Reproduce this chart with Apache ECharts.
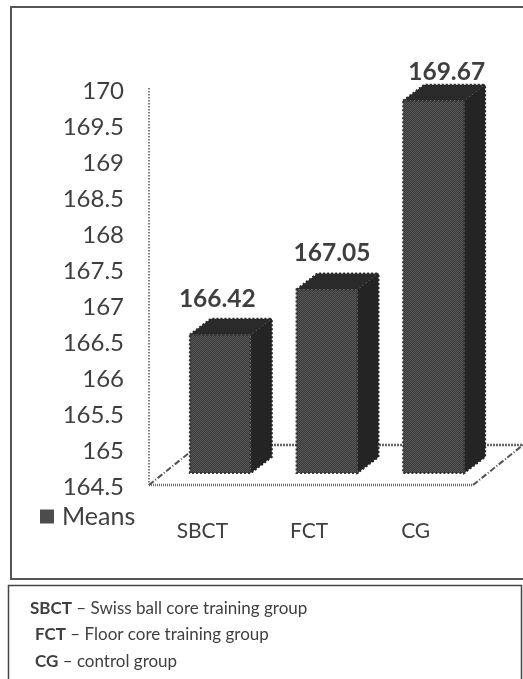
<!DOCTYPE html>
<html>
<head>
<meta charset="utf-8">
<style>html,body{margin:0;padding:0;background:#fff}#c{width:523px;height:679px}</style>
<script src="https://cdn.jsdelivr.net/npm/echarts@6/dist/echarts.min.js"></script>
</head>
<body>
<div id="c"></div>
<script>
const categories = ['SBCT', 'FCT', 'CG'];
const means = [166.42, 167.05, 169.67];
const yTicks = [164.5, 170];
const seriesName = 'Means';
const glossary = [
  ['SBCT', ' – Swiss ball core training group'],
  ['FCT', ' – Floor core training group'],
  ['CG', ' – control group']
];

const FONT = 'Lato, "Open Sans", sans-serif';
const INK = '#3f3f3f';
// Oblique projection of the 3D box
const FLOOR_DX = 50, FLOOR_DY = -40, FLOOR_LIFT = 2, FLOOR_EXTRA = 4;
const BAR_SHIFT_X = 18, BAR_SHIFT_Y = -14, BAR_W = 61, DEPTH_X = 21, DEPTH_Y = -16;
const LABEL_NUDGE = [[-3, -2], [5, -2], [13, 5]];

// Fine stipple used on the front face of the columns
function stipple(a, b) {
  const c = document.createElement('canvas');
  c.width = c.height = 2;
  const g = c.getContext('2d');
  g.fillStyle = a; g.fillRect(0, 0, 2, 2);
  g.fillStyle = b; g.fillRect(0, 0, 1, 1); g.fillRect(1, 1, 1, 1);
  return c;
}
const FRONT_FILL = { image: stipple('#3c3c3c', '#565656'), repeat: 'repeat' };

const chart = echarts.init(document.getElementById('c'), null, { renderer: 'canvas' });

function drawFloor(params, api) {
  const g = params.coordSys;
  const x0 = g.x, x1 = g.x + g.width + FLOOR_EXTRA, y = g.y + g.height - FLOOR_LIFT;
  const line = (a, b, c, d, w, dash, col) => ({
    type: 'line',
    shape: { x1: a, y1: b, x2: c, y2: d },
    style: { stroke: col, lineWidth: w, lineDash: dash }
  });
  return {
    type: 'group',
    children: [
      line(x0, g.y - 3, x0, y, 1.5, [1.5, 1.5], '#555'),
      line(x0, y, x1, y, 2.5, [1, 1], '#6a6a6a'),
      line(x0, y, x0 + FLOOR_DX, y + FLOOR_DY, 2, [6, 2, 1, 2], '#555'),
      line(x1, y, x1 + FLOOR_DX, y + FLOOR_DY, 2, [6, 2, 1, 2], '#555'),
      line(x0 + FLOOR_DX, y + FLOOR_DY, x1 + FLOOR_DX, y + FLOOR_DY, 2.5, [2, 1], '#666')
    ]
  };
}

function drawBar(params, api) {
  const i = api.value(0);
  const v = api.value(1);
  const top = api.coord([i, v]);
  const base = api.coord([i, yTicks[0]]);
  const l = top[0] + BAR_SHIFT_X - BAR_W / 2, r = l + BAR_W;
  const t = top[1] + BAR_SHIFT_Y, b = base[1] + BAR_SHIFT_Y;
  const nudge = LABEL_NUDGE[i];
  const edge = { stroke: '#333', lineWidth: 2, lineDash: [2, 2] };
  return {
    type: 'group',
    children: [
      { type: 'polygon',
        shape: { points: [[r, t], [r + DEPTH_X, t + DEPTH_Y], [r + DEPTH_X, b + DEPTH_Y], [r, b]] },
        style: { fill: '#242424', ...edge, stroke: '#242424' } },
      { type: 'polygon',
        shape: { points: [[l, t], [l + DEPTH_X, t + DEPTH_Y], [r + DEPTH_X, t + DEPTH_Y], [r, t]] },
        style: { fill: '#2a2a2a', ...edge, stroke: '#2a2a2a' } },
      { type: 'rect',
        shape: { x: l, y: t, width: BAR_W, height: b - t },
        style: { fill: FRONT_FILL, ...edge } },
      { type: 'text',
        style: {
          x: (l + r) / 2 + nudge[0],
          y: t + DEPTH_Y - 18 + nudge[1],
          text: v.toFixed(2),
          fill: INK,
          font: 'bold 24.5px ' + FONT,
          align: 'center',
          verticalAlign: 'middle'
        } }
    ]
  };
}

chart.setOption({
  animation: false,
  backgroundColor: '#fff',
  grid: { left: 149, top: 91, width: 320, height: 396 },
  legend: {
    left: 35, top: 499,
    itemWidth: 14, itemHeight: 14, itemGap: 0,
    icon: 'rect',
    textStyle: { fontFamily: FONT, fontSize: 25, color: INK, padding: [0, 0, 0, 3] },
    data: [{ name: seriesName, itemStyle: { color: '#4c4c4c' } }]
  },
  xAxis: {
    type: 'category',
    data: categories,
    axisLine: { show: false },
    axisTick: { show: false },
    axisLabel: { fontFamily: FONT, fontSize: 21, color: INK, margin: 34 }
  },
  yAxis: {
    type: 'value',
    min: yTicks[0],
    max: yTicks[1],
    interval: 0.5,
    axisLine: { show: false },
    axisTick: { show: false },
    splitLine: { show: false },
    axisLabel: { fontFamily: FONT, fontSize: 24, color: INK, margin: 25, align: 'right' }
  },
  graphic: [
    { type: 'rect', silent: true,
      shape: { x: 11, y: 7, width: 516, height: 572 },
      style: { fill: 'none', stroke: '#555', lineWidth: 2 } },
    { type: 'rect', silent: true,
      shape: { x: 8.5, y: 585.5, width: 513, height: 100 },
      style: { fill: 'none', stroke: '#444', lineWidth: 1.5 } },
    ...glossary.map((row, k) => ({
      type: 'text', silent: true,
      left: k === 0 ? 30 : 35, top: 600 + k * 26.5,
      style: {
        text: '{b|' + row[0] + '}{n|' + row[1] + '}',
        rich: {
          b: { fill: INK, fontWeight: 'bold', fontSize: 17, fontFamily: FONT },
          n: { fill: INK, fontSize: 17, fontFamily: FONT }
        }
      }
    }))
  ],
  series: [
    { type: 'custom', name: 'floor', silent: true, data: [0], renderItem: drawFloor, encode: { x: -1, y: -1 }, z: 1 },
    {
      type: 'custom',
      name: seriesName,
      renderItem: drawBar,
      itemStyle: { color: '#4c4c4c' },
      encode: { x: 0, y: 1 },
      data: means.map((v, i) => [i, v]),
      z: 2
    }
  ]
});
</script>
</body>
</html>
